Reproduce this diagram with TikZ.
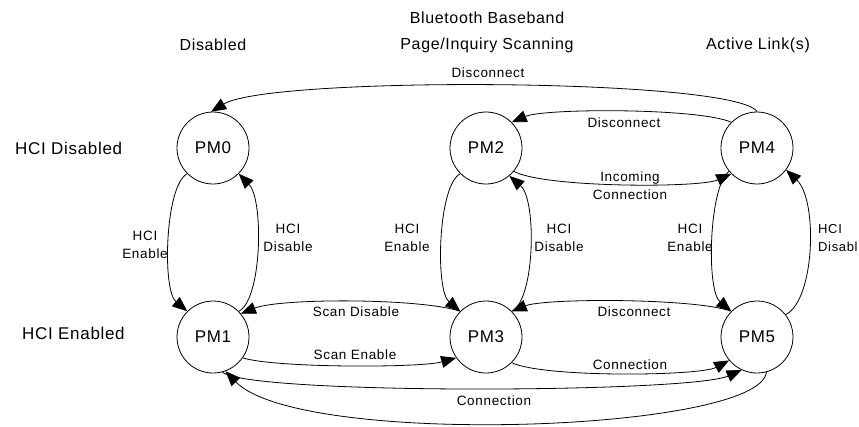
\documentclass[tikz,border=0pt]{standalone}
\usepackage{fontspec}
\setmainfont{Liberation Sans}
\newfontfamily\bigfont[LetterSpace=4]{Liberation Sans}
\newfontfamily\lblfont[LetterSpace=5]{Liberation Sans}
\usetikzlibrary{arrows.meta}
\begin{document}
\begin{tikzpicture}[x=1pt,y=-1pt,
  state/.style={circle,draw,line width=0.8pt,minimum size=72pt,inner sep=0pt,font=\bigfont\fontsize{17}{19}\selectfont},
  big/.style={inner sep=0pt,font=\bigfont\fontsize{16}{19}\selectfont},
  lbl/.style={inner sep=0pt,align=center,font=\lblfont\fontsize{13.5}{18}\selectfont},
  edge/.style={line width=0.8pt,-{Triangle[length=15pt,width=12pt]}}]
\useasboundingbox (0,0) rectangle (859,426);

% headings
\node[big] (h1) at (487,18) {Bluetooth Baseband};
\node[big] (h2) at (213,45) {Disabled};
\node[big] (h3) at (487,45) {Page/Inquiry Scanning};
\node[big] (h4) at (758,45) {Active Link(s)};
\node[big,anchor=west,font=\bigfont\fontsize{17}{19}\selectfont] (r1) at (15,148) {HCI Disabled};
\node[big,anchor=west,font=\bigfont\fontsize{17}{19}\selectfont] (r2) at (22,333) {HCI Enabled};

% states
\node[state] (pm0) at (213,148) {PM0};
\node[state] (pm2) at (486,148) {PM2};
\node[state] (pm4) at (757,148) {PM4};
\node[state] (pm1) at (213,337) {PM1};
\node[state] (pm3) at (486,337) {PM3};
\node[state] (pm5) at (757,337) {PM5};

% top row
\draw[edge] (pm4.north) .. controls (735,78) and (270,76) .. (pm0.93);
\node[lbl] (ldis1) at (488,73) {Disconnect};
\draw[edge] (pm4.135) .. controls (700,108) and (545,108) .. (pm2.45);
\node[lbl] (ldis2) at (624,123) {Disconnect};
\draw[edge] (pm2.-40) .. controls (545,188) and (700,188) .. (pm4.-135);
\node[lbl] (linc) at (630,186) {Incoming\\Connection};

% vertical pairs
\draw[edge] (pm0.-135) .. controls (165,185) and (162,290) .. (pm1.135);
\node[lbl] (le0) at (145,245) {HCI\\Enable};
\draw[edge] (pm1.45) .. controls (262,300) and (264,200) .. (pm0.-45);
\node[lbl] (ld0) at (288,238) {HCI\\Disable};

\draw[edge] (pm2.-135) .. controls (438,185) and (435,290) .. (pm3.135);
\node[lbl] (le2) at (407,238) {HCI\\Enable};
\draw[edge] (pm3.45) .. controls (535,300) and (537,200) .. (pm2.-50);
\node[lbl] (ld2) at (559,238) {HCI\\Disable};

\draw[edge] (pm4.-140) .. controls (709,185) and (706,290) .. (pm5.135);
\node[lbl] (le4) at (690,238) {HCI\\Enable};
\draw[edge] (pm5.38) .. controls (815,300) and (818,200) .. (pm4.-37);
\node[lbl,align=left,anchor=west,font=\lblfont\fontsize{13}{18}\selectfont] (ld4) at (818,238) {HCI\\Disabl};

% bottom row
\draw[edge] (pm1.-35) .. controls (275,368) and (420,368) .. (pm3.-145);
\node[lbl] (lse) at (355,355) {Scan Enable};
\draw[edge] (pm3.135) .. controls (420,298) and (280,298) .. (pm1.40);
\node[lbl] (lsd) at (356,312) {Scan Disable};
\draw[edge] (pm5.135) .. controls (695,298) and (545,298) .. (pm3.45);
\node[lbl] (ldis3) at (634,312) {Disconnect};
\draw[edge] (pm3.-45) .. controls (545,378) and (700,376) .. (pm5.-140);
\node[lbl] (lcon1) at (630,365) {Connection};
\draw[edge] (pm1.-75) .. controls (250,395) and (690,393) .. (pm5.-115);
\node[lbl] (lcon2) at (494,401) {Connection};
\draw[edge] (pm5.-75) .. controls (760,432) and (300,448) .. (pm1.-70);
\end{tikzpicture}
\end{document}
